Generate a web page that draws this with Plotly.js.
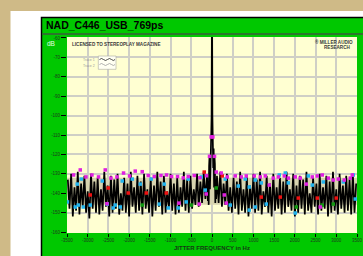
<!DOCTYPE html>
<html><head><meta charset="utf-8">
<script src="https://cdn.plot.ly/plotly-3.0.1.min.js"></script>
<style>html,body{margin:0;padding:0;background:#cfba87;}#chart{width:363px;height:256px;}</style>
</head><body><div id="chart"></div>
<script>
// ---- data ----
const chartTitle = "NAD_C446_USB_769ps";
const xTickVals = [-3500,-3000,-2500,-2000,-1500,-1000,-500,0,500,1000,1500,2000,2500,3000,3500];
const xTickText = ["-3500","-3000","-2500","-2000","-1500","-1000","-500","0","500","1000","1500","2000","2500","3000","3500"];
const yTickVals = [-60,-70,-80,-90,-100,-110,-120,-130,-140,-150,-160];
const yTickText = ["-60","-70","-80","-90","-100","-110","-120","-130","-140","-150","-160"];

const freqLeft = [-3480,-3440,-3400,-3360,-3320,-3280,-3240,-3200,-3160,-3120,
-3080,-3040,-3000,-2960,-2920,-2880,-2840,-2800,-2760,-2720,
-2680,-2640,-2600,-2560,-2520,-2480,-2440,-2400,-2360,-2320,
-2280,-2240,-2200,-2160,-2120,-2080,-2040,-2000,-1960,-1920,
-1880,-1840,-1800,-1760,-1720,-1680,-1640,-1600,-1560,-1520,
-1480,-1440,-1400,-1360,-1320,-1280,-1240,-1200,-1160,-1120,
-1080,-1040,-1000,-960,-920,-880,-840,-800,-760,-720,
-680,-640,-600,-560,-520,-480,-440,-400,-360,-320,
-280,-240,-200,-160,-120];
const levelLeft = [-133,-148,-130,-152,-137,-149,-129,-151,-135,-147,
-131,-150,-139,-153,-130,-148,-134,-150,-132,-151,
-138,-149,-129,-147,-136,-152,-131,-150,-133,-148,
-130,-151,-140,-149,-132,-150,-135,-152,-129,-147,
-137,-150,-131,-149,-134,-151,-130,-148,-138,-150,
-132,-152,-136,-149,-129,-147,-134,-151,-131,-150,
-139,-148,-130,-149,-135,-151,-132,-150,-137,-147,
-129,-149,-133,-150,-131,-148,-138,-146,-130,-147,
-134,-145,-129,-143,-131];
const freqCenter = [-100,-90,-80,-70,-60,-50,-40,-30,-20,-10,0,10,20,30,40,50,60,70,80,90,100];
const levelCenter = [-144,-134,-146,-126,-121,-138,-118,-128,-111,-100,-30,-100,-111,-127,-117,-137,-121,-125,-145,-133,-143];
const freqRight = [120,160,200,240,280,320,360,400,440,480,
520,560,600,640,680,720,760,800,840,880,
920,960,1000,1040,1080,1120,1160,1200,1240,1280,
1320,1360,1400,1440,1480,1520,1560,1600,1640,1680,
1720,1760,1800,1840,1880,1920,1960,2000,2040,2080,
2120,2160,2200,2240,2280,2320,2360,2400,2440,2480,
2520,2560,2600,2640,2680,2720,2760,2800,2840,2880,
2920,2960,3000,3040,3080,3120,3160,3200,3240,3280,
3320,3360,3400,3440,3480];
const levelRight = [-131,-145,-129,-147,-135,-146,-130,-149,-137,-150,
-132,-148,-134,-151,-129,-149,-138,-150,-131,-152,
-136,-148,-130,-150,-133,-149,-129,-151,-139,-147,
-131,-150,-135,-152,-130,-149,-137,-148,-132,-151,
-134,-150,-129,-147,-138,-149,-130,-152,-136,-150,
-131,-148,-133,-151,-129,-149,-140,-150,-132,-147,
-135,-151,-130,-149,-137,-148,-131,-152,-134,-150,
-129,-149,-138,-151,-130,-148,-136,-150,-131,-149,
-133,-151,-130,-150,-135];

const shadeFreq = [-3500,3500,3500,-3500];
const shadeLevel = [-132,-132,-146,-146];

const magentaFreq = [-3342,-3180,-3043,-2898,-2739,-2577,-2439,-2294,-2135,-1990,-1853,
-1684,-1539,-1394,-1232,-1097,-976,-832,-694,-573,-429,-291,-132,
-20,20,-60,60,103,224,368,561,706,827,1020,1165,1286,1382,1479,1600,1745,
1842,2010,2131,2276,2420,2541,2662,2807,2927,3048,3193,3338,3386,
-2536,-798,-308,-139,296,344,2613];
const magentaLevel = [-130.6,-128,-131.6,-130.6,-131.6,-128,-132.2,-131.6,-129.6,-131.1,-128.6,
-128.9,-130.9,-131.4,-130.9,-130.6,-131.4,-131.4,-132.1,-131.4,-130.9,-132,-131,
-111,-111,-121,-121,-129.1,-129.6,-131.6,-131.1,-131.6,-131.1,-131.1,-131.6,-131.1,-135.8,-132.2,-131.6,-131.1,
-132.2,-131.6,-132.2,-135.3,-131.6,-131.1,-130.6,-132.2,-133.2,-132.7,-133.2,-132.2,-130.6,
-145.4,-145.1,-145.6,-140.4,-140.9,-145.1,-147.1];

const cyanFreq = [-3490,-3253,-3156,-3301,-3229,-3108,-2939,-2649,-2529,-2384,-2336,-2215,-2167,-1925,
-1732,-1466,-1153,-1273,-1056,-815,-573,-260,-163,-622,
320,634,803,899,1044,1189,441,899,1044,1310,1624,1769,1842,2324,2420,2686,3169,3410,3459,2010];
const cyanLevel = [-144.5,-135.3,-132.7,-147.1,-146.1,-147.1,-146.1,-133.7,-145.6,-147.6,-146.1,-147.1,-133.7,-132.7,
-135.3,-132.7,-135.3,-145.6,-147.6,-147.6,-132.7,-131.6,-138.4,-144.5,
-132.7,-136.3,-132.7,-136.8,-133.2,-134.7,-146.1,-148.7,-147.1,-145.6,-130.6,-129.6,-134.7,-131.1,-135.8,-134.2,-134.2,-130.6,-143.0,-150.2];

const redFreq = [-2939,-2505,-2022,-1587,-1104,-187,247,1189,1648,2082,2541,2999];
const redLevel = [-140.9,-137.3,-139.9,-139.9,-139.9,-129.1,-131.1,-142,-142,-142.5,-142.5,-142.5];

const greenFreq = [-1684,-501,103,2034,2662,2927];
const greenLevel = [-146.1,-146.1,-137.3,-147.1,-146.1,-145.6];

// ---- traces ----
const spectrumFreq = freqLeft.concat(freqCenter, freqRight);
const spectrumLevel = levelLeft.concat(levelCenter, levelRight);

function markers(x, y, color) {
  return {x: x, y: y, type: 'scatter', mode: 'markers', hoverinfo: 'skip',
    marker: {symbol: 'square', size: 3.5, color: color, line: {width: 0}}};
}

const traces = [
  {x: shadeFreq, y: shadeLevel, type: 'scatter', mode: 'lines', fill: 'toself',
   fillcolor: '#d8d4b0', line: {width: 0}, hoverinfo: 'skip'},
  {x: spectrumFreq, y: spectrumLevel, type: 'scatter', mode: 'lines',
   line: {color: '#000000', width: 1.7}, hoverinfo: 'skip'},
  markers(cyanFreq, cyanLevel, '#22b4ee'),
  markers(redFreq, redLevel, '#ee1111'),
  markers(greenFreq, greenLevel, '#119911'),
  markers(magentaFreq, magentaLevel, '#e020e0')
];

// pixel -> paper helpers for decoration placement (plot area 67..357 x, 37..233 y)
const px = p => (p - 67) / 290;
const py = p => (233 - p) / 196;

const layout = {
  width: 363, height: 256,
  margin: {l: 67, r: 6, t: 37, b: 23, pad: 0},
  paper_bgcolor: '#cfba87',
  plot_bgcolor: '#ffffd2',
  showlegend: false,
  xaxis: {
    range: [-3500, 3500], tickvals: xTickVals, ticktext: xTickText,
    showgrid: true, gridcolor: '#cfcfc6', gridwidth: 2, zeroline: false,
    ticks: 'outside', ticklen: 3, tickcolor: '#000', tickwidth: 1,
    tickfont: {size: 4.5, color: '#1e3a1e', family: 'Liberation Sans, Arial'},
    showline: false, fixedrange: true
  },
  yaxis: {
    range: [-160.5, -59.5], tickvals: yTickVals, ticktext: yTickText,
    showgrid: true, gridcolor: '#cfcfc6', gridwidth: 2, zeroline: false,
    ticks: 'outside', ticklen: 5, tickcolor: '#000', tickwidth: 1,
    tickfont: {size: 4.5, color: '#1e3a1e', family: 'Liberation Sans, Arial'},
    showline: false, fixedrange: true
  },
  shapes: [
    {type: 'rect', xref: 'paper', yref: 'paper', layer: 'below',
     x0: px(10.5), x1: px(370), y0: py(262), y1: py(11),
     fillcolor: '#ffffff', line: {width: 0}},
    {type: 'rect', xref: 'paper', yref: 'paper', layer: 'below',
     x0: px(41.5), x1: px(370), y0: py(262), y1: py(17.5),
     fillcolor: '#00c800', line: {color: '#000000', width: 1.5}},
    {type: 'line', xref: 'paper', yref: 'paper', layer: 'below',
     x0: px(42), x1: px(370), y0: py(34), y1: py(34),
     line: {color: '#3c5a3c', width: 1.5}},
    {type: 'rect', xref: 'paper', yref: 'paper', layer: 'below',
     x0: 0, x1: 1, y0: 0, y1: 1,
     fillcolor: '#ffffd2', line: {width: 0}},
    {type: 'rect', xref: 'paper', yref: 'paper',
     x0: px(98.3), x1: px(116), y0: py(69.3), y1: py(56),
     fillcolor: '#fffff2', line: {color: '#a8a8a0', width: 0.6}},
    {type: 'path', xref: 'paper', yref: 'paper',
     path: 'M ' + px(99.5) + ',' + py(59.5) + ' Q ' + px(101.5) + ',' + py(57.5) + ' ' + px(103.5) + ',' + py(59.5) +
           ' T ' + px(107.5) + ',' + py(59.5) + ' T ' + px(111.5) + ',' + py(59.5) + ' T ' + px(115) + ',' + py(59.5),
     line: {color: '#202020', width: 0.8}},
    {type: 'path', xref: 'paper', yref: 'paper',
     path: 'M ' + px(99.5) + ',' + py(64.5) + ' Q ' + px(101.5) + ',' + py(62.5) + ' ' + px(103.5) + ',' + py(64.5) +
           ' T ' + px(107.5) + ',' + py(64.5) + ' T ' + px(111.5) + ',' + py(64.5) + ' T ' + px(115) + ',' + py(64.5),
     line: {color: '#9a9a9a', width: 0.8}}
  ],
  annotations: [
    {text: '<b>' + chartTitle + '</b>', xref: 'paper', yref: 'paper', x: px(44), y: py(25),
     xanchor: 'left', yanchor: 'middle', showarrow: false,
     font: {size: 10.5, color: '#000000', family: 'Liberation Sans, Arial'}},
    {text: 'dB', xref: 'paper', yref: 'paper', x: px(45), y: py(43.5),
     xanchor: 'left', yanchor: 'middle', showarrow: false,
     font: {size: 6.5, color: '#e4ffe4', family: 'Liberation Sans, Arial'}},
    {text: '<b>LICENSED TO STEREOPLAY MAGAZINE</b>', xref: 'paper', yref: 'paper', x: px(70), y: py(44.5),
     xanchor: 'left', yanchor: 'middle', showarrow: false,
     font: {size: 4.6, color: '#3a3a3a', family: 'Liberation Sans, Arial'}},
    {text: 'Trace 1', xref: 'paper', yref: 'paper', x: px(89), y: py(59.5),
     xanchor: 'center', yanchor: 'middle', showarrow: false,
     font: {size: 3.5, color: '#9a9a9a', family: 'Liberation Sans, Arial'}},
    {text: 'Trace 2', xref: 'paper', yref: 'paper', x: px(89), y: py(65.5),
     xanchor: 'center', yanchor: 'middle', showarrow: false,
     font: {size: 3.5, color: '#9a9a9a', family: 'Liberation Sans, Arial'}},
    {text: '<b>\u00ae MILLER AUDIO</b>', xref: 'paper', yref: 'paper', x: px(334), y: py(42),
     xanchor: 'center', yanchor: 'middle', showarrow: false,
     font: {size: 4.6, color: '#3a3a3a', family: 'Liberation Sans, Arial'}},
    {text: '<b>RESEARCH</b>', xref: 'paper', yref: 'paper', x: px(337), y: py(47.5),
     xanchor: 'center', yanchor: 'middle', showarrow: false,
     font: {size: 4.6, color: '#3a3a3a', family: 'Liberation Sans, Arial'}},
    {text: '<b>JITTER FREQUENCY in Hz</b>', xref: 'paper', yref: 'paper', x: px(212), y: py(247.5),
     xanchor: 'center', yanchor: 'middle', showarrow: false,
     font: {size: 6, color: '#143814', family: 'Liberation Sans, Arial'}}
  ]
};

Plotly.newPlot('chart', traces, layout, {displayModeBar: false, staticPlot: true});
</script></body></html>
